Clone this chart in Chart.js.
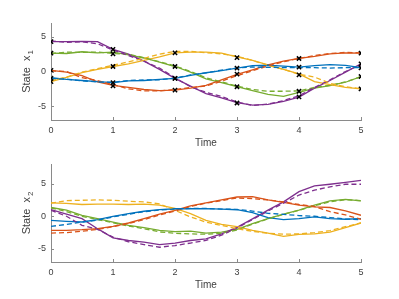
<!DOCTYPE html>
<html>
<head>
<meta charset="utf-8">
<script src="https://cdn.jsdelivr.net/npm/chart.js@4"></script>
<style>
  html, body { margin: 0; padding: 0; background: #ffffff; }
  #wrap { position: relative; width: 399px; height: 299px; }
  canvas { position: absolute; left: 0; }
</style>
</head>
<body>
<div id="wrap">
  <canvas id="c1" width="399" height="150" style="top:0"></canvas>
  <canvas id="c2" width="399" height="149" style="top:150px"></canvas>
</div>
<script>
// ---------------- DATA ----------------
const time = [0, 0.25, 0.5, 0.75, 1, 1.25, 1.5, 1.75, 2, 2.25, 2.5, 2.75, 3, 3.25, 3.5, 3.75, 4, 4.25, 4.5, 4.75, 5];
const measTime = [0, 1, 2, 3, 4, 5];
const xTicks = [0, 1, 2, 3, 4, 5];
const yTicks = [-5, 0, 5];
const seriesNames = ['blue', 'red', 'yellow', 'purple', 'green'];

// State x1: true (solid) and estimated (dashed)
const x1Blue     = [-0.9, -1.15, -1.3, -1.45, -1.6, -1.35, -1.3, -1.15, -1.0, -0.55, -0.18, 0.14, 0.48, 0.85, 0.9, 0.77, 0.63, 0.85, 1.0, 0.87, 0.55];
const x1BlueEst  = [-1.0, -1.1, -1.35, -1.5, -1.55, -1.3, -1.2, -1.2, -0.95, -0.5, -0.2, 0.2, 0.5, 0.65, 0.6, 0.55, 0.55, 0.55, 0.5, 0.55, 0.55];
const x1Red      = [0.15, -0.1, -0.6, -1.5, -2.0, -2.3, -2.6, -2.75, -2.7, -2.4, -2.0, -1.2, -0.4, 0.25, 0.95, 1.5, 1.88, 2.17, 2.55, 2.7, 2.65];
const x1RedEst   = [0.1, 0.0, -0.9, -1.3, -1.9, -2.5, -2.8, -2.8, -2.6, -2.3, -2.1, -1.4, -0.6, 0.1, 0.8, 1.4, 1.9, 2.3, 2.6, 2.75, 2.7];
const x1Yellow   = [-1.45, -0.85, -0.15, 0.3, 0.72, 1.1, 1.6, 2.1, 2.7, 2.8, 2.8, 2.65, 2.1, 1.6, 0.95, 0.3, -0.35, -1.45, -1.9, -2.3, -2.5];
const x1YellowEst= [-1.35, -0.8, -0.1, 0.4, 0.9, 1.4, 1.9, 2.5, 2.9, 2.9, 2.7, 2.55, 2.2, 1.6, 0.9, 0.3, -0.4, -0.8, -1.7, -2.2, -2.5];
const x1Purple   = [4.3, 4.3, 4.35, 4.3, 3.2, 2.5, 1.5, 0.3, -1.0, -2.1, -3.2, -3.8, -4.5, -4.85, -4.75, -4.3, -3.7, -2.4, -1.3, -0.1, 1.1];
const x1PurpleEst= [4.4, 4.2, 4.3, 4.0, 3.1, 2.3, 1.5, 0.5, -0.9, -2.2, -3.0, -3.6, -4.4, -4.9, -4.7, -4.2, -3.5, -2.3, -1.2, 0.0, 1.0];
const x1Green    = [2.65, 2.6, 2.85, 2.7, 2.8, 2.4, 1.95, 1.35, 0.72, -0.1, -1.05, -1.6, -2.2, -2.75, -3.3, -3.6, -3.0, -2.4, -2.05, -1.55, -0.72];
const x1GreenEst = [2.6, 2.8, 2.75, 2.8, 2.6, 2.5, 2.0, 1.4, 0.8, 0.0, -0.9, -1.5, -2.1, -2.6, -2.85, -2.85, -2.8, -2.3, -2.0, -1.5, -0.75];

// Measurements of x1 at integer times
const meas1Blue   = [-0.97, -1.6, -1.0, 0.48, 0.63, 0.53];
const meas1Red    = [0.15, -2.07, -2.7, -0.39, 1.88, 2.65];
const meas1Yellow = [-1.45, 0.72, 2.7, 2.0, -0.48, -2.5];
const meas1Purple = [4.3, 3.2, -1.0, -4.55, -3.67, 1.1];
const meas1Green  = [2.65, 2.55, 0.72, -2.2, -2.85, -0.72];

// State x2: true (solid) and estimated (dashed)
const x2Blue     = [-0.62, -0.77, -0.88, -0.5, 0.0, 0.41, 0.77, 1.03, 1.15, 1.15, 1.18, 1.1, 1.0, 0.57, -0.21, -0.52, -0.36, -0.1, -0.36, -0.46, -0.36];
const x2BlueEst  = [-1.55, -1.25, -0.9, -0.6, -0.1, 0.3, 0.7, 0.95, 1.1, 1.2, 1.2, 1.1, 1.05, 0.8, 0.45, 0.3, 0.1, 0.0, -0.2, -0.4, -0.52];
const x2Red      = [-2.16, -2.16, -2.06, -1.9, -1.55, -1.03, -0.36, 0.31, 0.9, 1.6, 2.06, 2.5, 2.95, 2.99, 2.5, 2.11, 1.7, 1.44, 1.34, 0.82, 0.15];
const x2RedEst   = [-2.58, -2.5, -2.3, -2.0, -1.6, -1.1, -0.5, 0.2, 0.8, 1.5, 2.0, 2.4, 2.8, 2.7, 2.5, 2.2, 1.8, 1.5, 0.7, 0.2, -0.46];
const x2Yellow   = [2.06, 1.96, 1.8, 1.85, 1.85, 1.8, 1.85, 1.7, 1.2, 0.41, -0.62, -1.24, -1.6, -2.16, -2.58, -3.09, -2.78, -2.68, -2.42, -1.75, -1.03];
const x2YellowEst= [2.0, 2.4, 2.45, 2.5, 2.45, 2.3, 2.2, 1.9, 0.9, -0.1, -0.9, -1.4, -1.9, -2.3, -2.6, -2.75, -2.7, -2.5, -2.2, -1.6, -1.0];
const x2Purple   = [1.03, 0.31, -0.36, -1.9, -3.3, -3.71, -3.97, -4.33, -4.1, -3.71, -3.45, -2.68, -1.7, -0.4, 0.93, 2.21, 3.76, 4.64, 4.9, 5.2, 5.5];
const x2PurpleEst= [0.9, 0.0, -1.39, -2.0, -3.2, -3.9, -4.33, -4.74, -4.48, -4.1, -3.7, -2.9, -1.8, -0.5, 0.8, 2.0, 3.25, 4.0, 4.5, 4.9, 4.9];
const x2Green    = [1.34, 0.93, 0.15, -0.36, -0.88, -1.39, -1.75, -2.16, -2.35, -2.27, -2.58, -2.42, -2.0, -1.13, -0.36, 0.31, 0.93, 1.7, 2.37, 2.58, 2.37];
const x2GreenEst = [1.3, 0.7, 0.0, -0.5, -1.0, -1.5, -1.9, -2.4, -2.6, -2.7, -2.75, -2.6, -2.1, -1.2, -0.4, 0.3, 0.9, 1.6, 2.2, 2.55, 2.4];

// ---------------- STYLE ----------------
const colors = { blue: '#0072BD', red: '#D95319', yellow: '#EDB120', purple: '#7E2F8E', green: '#77AC30' };
const axisColor = '#8a8a8a';
const textColor = '#404040';
const fontFamily = '"Liberation Sans", Arial, Helvetica, sans-serif';

function pts(xs, ys) { return xs.map((x, i) => ({ x: x, y: ys[i] })); }

function lineSets(trueArr, estArr) {
  const out = [];
  seriesNames.forEach((n, i) => {
    out.push({ data: pts(time, trueArr[i]), borderColor: colors[n], borderWidth: 1.3, pointRadius: 0, fill: false, tension: 0, order: 2 });
  });
  seriesNames.forEach((n, i) => {
    out.push({ data: pts(time, estArr[i]), borderColor: colors[n], borderWidth: 1.3, borderDash: [5, 3], pointRadius: 0, fill: false, tension: 0, order: 1 });
  });
  return out;
}

const inwardTicks = {
  id: 'inwardTicks',
  afterDraw(chart) {
    const { ctx, chartArea, scales } = chart;
    ctx.save();
    ctx.strokeStyle = axisColor;
    ctx.lineWidth = 1;
    xTicks.forEach(v => {
      const px = Math.round(scales.x.getPixelForValue(v)) + 0.5;
      ctx.beginPath();
      ctx.moveTo(px, chartArea.bottom);
      ctx.lineTo(px, chartArea.bottom - 3);
      ctx.stroke();
    });
    yTicks.forEach(v => {
      const py = Math.round(scales.y.getPixelForValue(v)) + 0.5;
      ctx.beginPath();
      ctx.moveTo(chartArea.left, py);
      ctx.lineTo(chartArea.left + 3, py);
      ctx.stroke();
    });
    ctx.restore();
  }
};

const yLabel = {
  id: 'yLabel',
  afterDraw(chart, args, opts) {
    const { ctx, chartArea } = chart;
    const cy = (chartArea.top + chartArea.bottom) / 2;
    ctx.save();
    ctx.fillStyle = textColor;
    ctx.font = '11px ' + fontFamily;
    const w1 = ctx.measureText(opts.main).width;
    ctx.font = '8px ' + fontFamily;
    const w2 = ctx.measureText(opts.sub).width;
    const total = w1 + w2 + 1;
    ctx.translate(opts.x, cy);
    ctx.rotate(-Math.PI / 2);
    ctx.textAlign = 'left';
    ctx.textBaseline = 'alphabetic';
    ctx.font = '11px ' + fontFamily;
    ctx.fillText(opts.main, -total / 2, 0);
    ctx.font = '8px ' + fontFamily;
    ctx.fillText(opts.sub, -total / 2 + w1 + 1, 3);
    ctx.restore();
  }
};

function makeChart(id, datasets, yMin, yMax, padTop, padBottom, sub) {
  return new Chart(document.getElementById(id), {
    type: 'line',
    data: { datasets: datasets },
    plugins: [inwardTicks, yLabel],
    options: {
      responsive: false,
      animation: false,
      devicePixelRatio: 1,
      layout: { padding: { left: 0, right: 38, top: padTop, bottom: padBottom } },
      plugins: {
        legend: { display: false },
        tooltip: { enabled: false },
        yLabel: { main: 'State  x', sub: sub, x: 29.5 }
      },
      scales: {
        x: {
          type: 'linear', min: 0, max: 5, offset: false,
          afterBuildTicks: s => { s.ticks = xTicks.map(v => ({ value: v })); },
          afterFit: s => { s.height = 30; },
          grid: { display: false, drawTicks: false },
          border: { display: true, color: axisColor, width: 1 },
          ticks: { padding: 5, color: textColor, font: { family: fontFamily, size: 9 }, maxRotation: 0 },
          title: { display: true, text: 'Time', color: textColor, font: { family: fontFamily, size: 10 }, padding: { top: 0, bottom: 1 } }
        },
        y: {
          type: 'linear', min: yMin, max: yMax,
          afterBuildTicks: s => { s.ticks = yTicks.map(v => ({ value: v })); },
          afterFit: s => { s.width = 51; },
          grid: { display: false, drawTicks: false },
          border: { display: true, color: axisColor, width: 1 },
          ticks: { padding: 5, color: textColor, font: { family: fontFamily, size: 9 } }
        }
      }
    }
  });
}

// Top: x1
const ds1 = lineSets(
  [x1Blue, x1Red, x1Yellow, x1Purple, x1Green],
  [x1BlueEst, x1RedEst, x1YellowEst, x1PurpleEst, x1GreenEst]
);
[meas1Blue, meas1Red, meas1Yellow, meas1Purple, meas1Green].forEach(m => {
  ds1.push({ data: pts(measTime, m), showLine: false, pointStyle: 'crossRot', pointRadius: 3,
             borderColor: '#000000', backgroundColor: '#000000', pointBorderWidth: 1.5, order: 0 });
});
makeChart('c1', ds1, -7, 7, 23, 0, '1');

// Bottom: x2
const ds2 = lineSets(
  [x2Blue, x2Red, x2Yellow, x2Purple, x2Green],
  [x2BlueEst, x2RedEst, x2YellowEst, x2PurpleEst, x2GreenEst]
);
makeChart('c2', ds2, -7, 8, 14, 7, '2');
</script>
</body>
</html>
